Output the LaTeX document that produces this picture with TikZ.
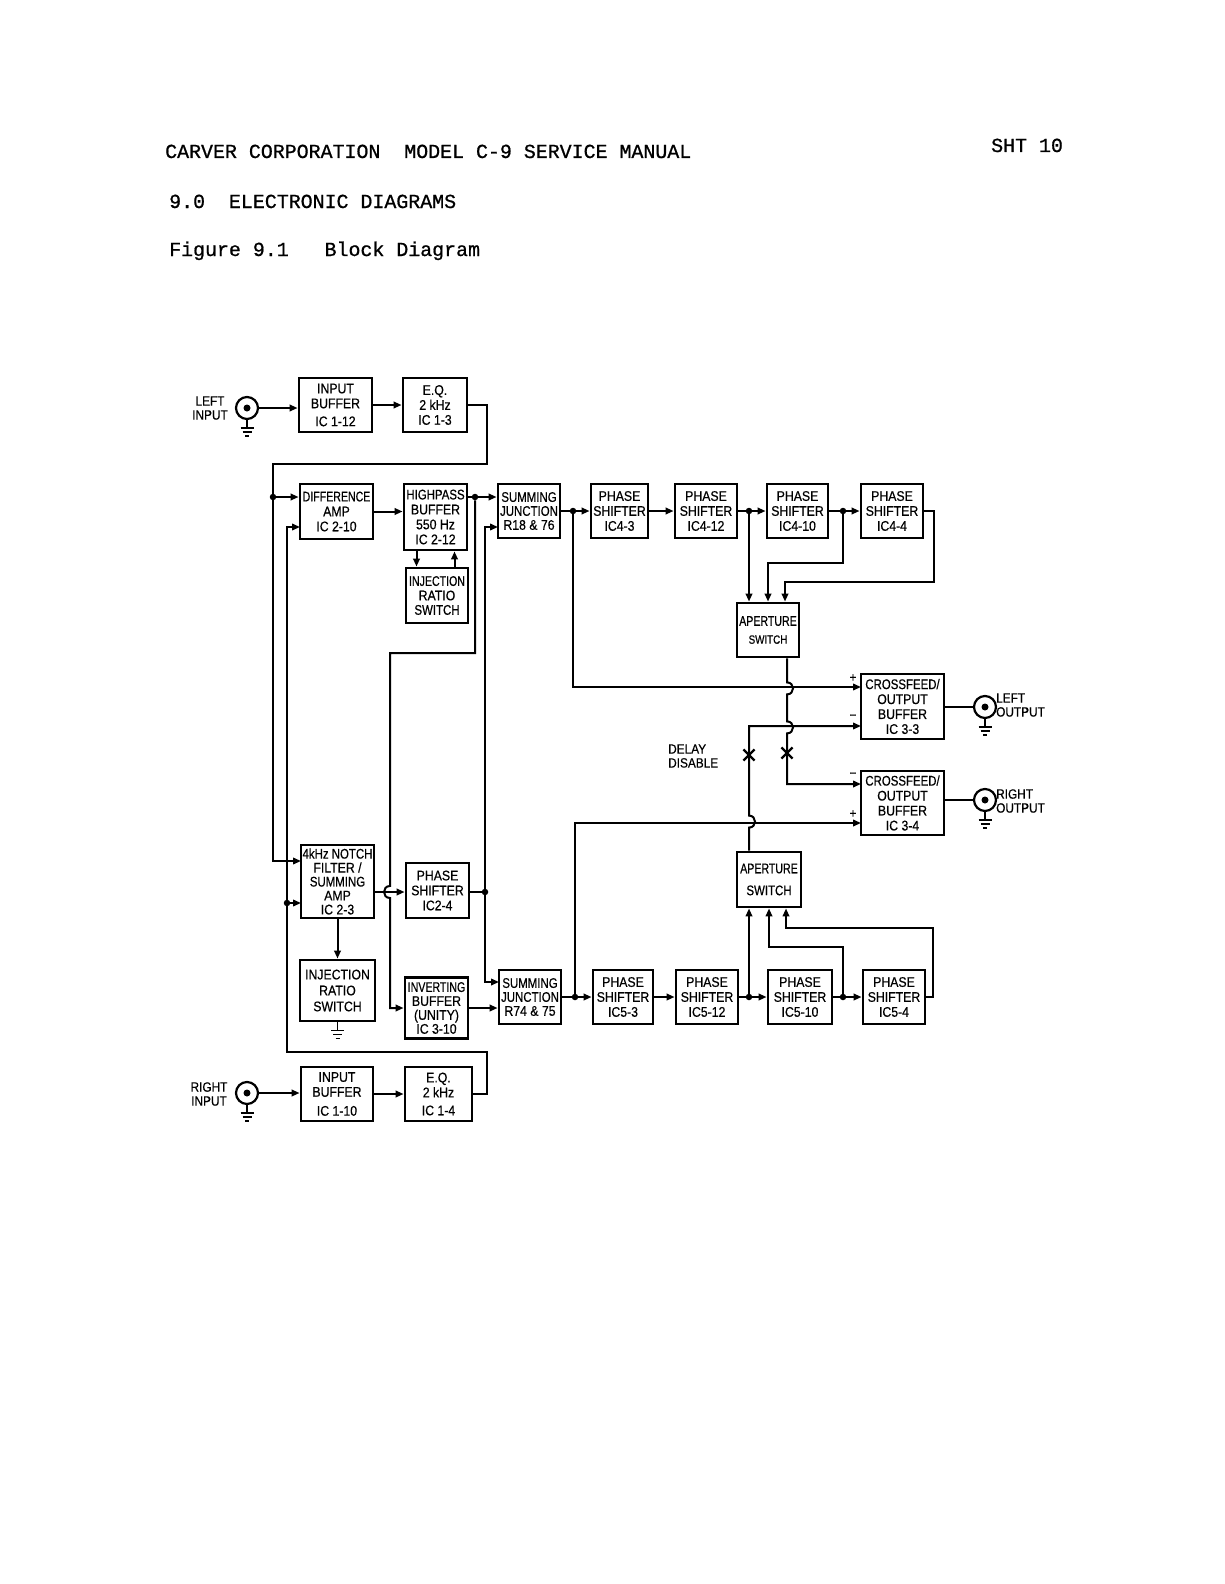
\documentclass[tikz,border=0pt]{standalone}
\usepackage{fontspec}
\setmainfont{Liberation Sans}
\newfontfamily\hdrfont[FakeBold=0.8]{Liberation Mono}
\newfontfamily\midf[FakeStretch=0.88,FakeBold=0.5]{Liberation Sans}
\newfontfamily\nar[FakeStretch=0.82,FakeBold=0.5]{Liberation Sans}
\newfontfamily\vnar[FakeStretch=0.76,FakeBold=0.5]{Liberation Sans}
\usetikzlibrary{arrows.meta,shapes.misc}
\tikzset{
 blk/.style={draw,line width=2.8bp,inner sep=0pt,align=center,font=\midf\fontsize{14}{15}\selectfont},
 wire/.style={line width=2bp},
 arr/.style={wire,-{Triangle[length=8bp,width=6.5bp]}},
 jdot/.style={circle,fill,inner sep=0pt,minimum size=6.5bp},
 jack/.style={circle,draw,line width=2.2bp,minimum size=22bp,inner sep=0pt},
 lbl/.style={font=\midf\fontsize{13.5}{14}\selectfont,align=center,inner sep=0pt},
 pm/.style={font=\midf\fontsize{13}{13}\selectfont,inner sep=0pt},
 hdr/.style={anchor=base west,inner sep=0pt,font=\hdrfont\fontsize{20}{20}\selectfont},
 xmark/.style={cross out,draw,line width=2.2bp,minimum size=9bp,inner sep=0pt},
 gnd/.pic={\draw[line width=1.8bp] (0,0)--(0,8) (-6.5,8)--(6.5,8) (-4.5,12)--(4.5,12) (-2,16)--(2,16);}
}
\begin{document}
\begin{tikzpicture}[x=1bp,y=-1bp]
\path[use as bounding box,fill=white] (0,0) rectangle (1224,1584);

% header
\node[hdr] (h1) at (165,158) {CARVER CORPORATION\ \ MODEL C-9 SERVICE MANUAL};
\node[hdr] (h2) at (991,152) {SHT 10};
\node[hdr] (h3) at (169,208) {9.0\ \ ELECTRONIC DIAGRAMS};
\node[hdr] (h4) at (169,256) {Figure 9.1\ \ \ Block Diagram};

% ---------- blocks ----------
\node[blk,minimum width=73bp,minimum height=54bp] (ib1) at (335.5,405) {INPUT\\BUFFER\\[3bp]IC 1-12};
\node[blk,minimum width=64bp,minimum height=54bp] (eq1) at (435,405) {E.Q.\\2 kHz\\IC 1-3};
\node[blk,minimum width=73bp,minimum height=55bp] (diff) at (336.5,511.5) {{\vnar DIFFERENCE}\\AMP\\IC 2-10};
\node[blk,minimum width=63bp,minimum height=66bp] (hp) at (435.5,517) {{\nar HIGHPASS}\\BUFFER\\550 Hz\\IC 2-12};
\node[blk,minimum width=62bp,minimum height=55bp,font=\midf\fontsize{14}{14.5}\selectfont] (inj1) at (437,595.5) {{\vnar INJECTION}\\RATIO\\{\nar SWITCH}};
\node[blk,minimum width=62bp,minimum height=54bp,font=\midf\fontsize{14}{14}\selectfont] (sj1) at (529,511) {{\nar SUMMING}\\{\nar JUNCTION}\\R18 \& 76};
\node[blk,minimum width=57bp,minimum height=54bp] (ps1) at (619.5,511) {PHASE\\SHIFTER\\IC4-3};
\node[blk,minimum width=62bp,minimum height=54bp] (ps2) at (706,511) {PHASE\\SHIFTER\\IC4-12};
\node[blk,minimum width=61bp,minimum height=54bp] (ps3) at (797.5,511) {PHASE\\SHIFTER\\IC4-10};
\node[blk,minimum width=62bp,minimum height=54bp] (ps4) at (892,511) {PHASE\\SHIFTER\\IC4-4};
\node[blk,minimum width=62bp,minimum height=54bp] (ap1) at (768,630) {{\vnar APERTURE}\\[3bp]{\fontsize{12}{12}\selectfont\nar SWITCH}};
\node[blk,minimum width=83bp,minimum height=65bp] (cf1) at (902.5,706.5) {{\nar CROSSFEED/}\\OUTPUT\\BUFFER\\IC 3-3};
\node[blk,minimum width=83bp,minimum height=64bp] (cf2) at (902.5,803) {{\nar CROSSFEED/}\\OUTPUT\\BUFFER\\IC 3-4};
\node[blk,minimum width=73bp,minimum height=73bp,font=\midf\fontsize{14}{14}\selectfont] (notch) at (337.5,881.5) {{\nar 4kHz NOTCH}\\FILTER /\\{\nar SUMMING}\\AMP\\IC 2-3};
\node[blk,minimum width=63bp,minimum height=55bp] (ps9) at (437.5,890.5) {PHASE\\SHIFTER\\IC2-4};
\node[blk,minimum width=75bp,minimum height=61bp,font=\midf\fontsize{14}{16}\selectfont] (inj2) at (337.5,990.5) {INJECTION\\RATIO\\SWITCH};
\node[blk,minimum width=63bp,minimum height=61bp,font=\midf\fontsize{14}{14}\selectfont] (inv) at (436.5,1008) {{\vnar INVERTING}\\BUFFER\\(UNITY)\\IC 3-10};
\node[blk,minimum width=62bp,minimum height=54bp,font=\midf\fontsize{14}{14}\selectfont] (sj2) at (530,997) {{\nar SUMMING}\\{\nar JUNCTION}\\R74 \& 75};
\node[blk,minimum width=60bp,minimum height=54bp] (ps5) at (623,997) {PHASE\\SHIFTER\\IC5-3};
\node[blk,minimum width=62bp,minimum height=54bp] (ps6) at (707,997) {PHASE\\SHIFTER\\IC5-12};
\node[blk,minimum width=64bp,minimum height=54bp] (ps7) at (800,997) {PHASE\\SHIFTER\\IC5-10};
\node[blk,minimum width=62bp,minimum height=54bp] (ps8) at (894,997) {PHASE\\SHIFTER\\IC5-4};
\node[blk,minimum width=64bp,minimum height=55bp] (ap2) at (769,879.5) {{\vnar APERTURE}\\[7bp]{\nar SWITCH}};
\node[blk,minimum width=72bp,minimum height=54bp] (ib2) at (337,1094) {INPUT\\BUFFER\\[4bp]IC 1-10};
\node[blk,minimum width=67bp,minimum height=54bp] (eq2) at (438.5,1094) {E.Q.\\2 kHz\\[3bp]IC 1-4};

% ---------- jacks and labels ----------
\node[jack] (li) at (247,408) {};
\node[jdot,minimum size=7bp] (lic) at (li) {};
\pic at (li.south) {gnd};
\node[lbl] (litxt) at (210,408) {LEFT\\INPUT};
\node[jack] (ri) at (247,1093) {};
\node[jdot,minimum size=7bp] (ric) at (ri) {};
\pic at (ri.south) {gnd};
\node[lbl] (ritxt) at (209,1094) {RIGHT\\INPUT};
\node[jack] (lo) at (985,707) {};
\node[jdot,minimum size=7bp] (loc) at (lo) {};
\pic at (lo.south) {gnd};
\node[lbl,anchor=west,align=left] (lotxt) at (996,705) {LEFT\\OUTPUT};
\node[jack] (ro) at (985,800) {};
\node[jdot,minimum size=7bp] (roc) at (ro) {};
\pic at (ro.south) {gnd};
\node[lbl,anchor=west,align=left] (rotxt) at (996,801) {RIGHT\\OUTPUT};
\pic at (inj2.south) {gnd};
\node[lbl,anchor=west,align=left] (dd) at (668,756) {DELAY\\DISABLE};
\node[pm] (pl1) at (853,678) {+};
\node[pm] (mi1) at (853,717) {\textminus};
\node[pm] (mi2) at (853,775) {\textminus};
\node[pm] (pl2) at (853,814) {+};

% ---------- junction dots and corner points ----------
\node[jdot] (d1) at (573,511) {};
\node[jdot] (d2) at (749,511) {};
\node[jdot] (d3) at (843,511) {};
\node[jdot] (d5) at (575,997) {};
\node[jdot] (d6) at (749,997) {};
\node[jdot] (d7) at (843,997) {};
\node[jdot] (d8) at (273,497) {};
\node[jdot] (d9) at (287,903) {};
\node[jdot] (d10) at (475,497) {};
\node[jdot] (d11) at (485,892) {};
\coordinate (c1) at (934,582);
\coordinate (c2) at (843,563);
\coordinate (c3) at (843,947);
\coordinate (c4) at (933,928);
\coordinate (c5) at (487,464);
\coordinate (c6) at (273,464);
\coordinate (c7) at (487,1052);
\coordinate (c8) at (287,1052);
\coordinate (c9) at (475,653);
\coordinate (c10) at (390,653);
\coordinate (n1) at (301,861);
\coordinate (n2) at (301,903);
\coordinate (di2) at (300,527);
\coordinate (s1b) at (498,527);
\coordinate (s2a) at (499,982);
\coordinate (cf1p) at (861,687);
\coordinate (cf1m) at (861,726);
\coordinate (cf2m) at (861,784);
\coordinate (cf2p) at (861,823);

% ---------- connectors: inputs ----------
\draw[arr] (li) -- (li -| ib1.west);
\draw[arr] (ib1) -- (eq1);
\draw[arr] (ri) -- (ri -| ib2.west);
\draw[arr] (ib2) -- (eq2);
\draw[arr] (eq1.east) -| (c5) -- (c6) |- (n1);
\draw[arr] (d8) -- (diff.west |- d8);
\draw[arr] (eq2.east) -| (c7) -- (c8) |- (di2);
\draw[arr] (d9) -- (n2);

% difference path
\draw[arr] (diff) -- (diff -| hp.west);
\draw[wire] (hp.east |- d10) -- (d10);
\draw[arr] (d10) -- (sj1.west |- d10);
\draw[arr] ([xshift=-19bp]hp.south) -- ([xshift=-19bp]hp.south |- inj1.north);
\draw[arr] ([xshift=19bp]hp.south |- inj1.north) -- ([xshift=19bp]hp.south);
\draw[arr] (d10) -- (c9) -- (c10) -- ++(0,233) .. controls +(-8,0) and +(-8,0) .. ++(0,12) |- (inv.west);

% notch path
\draw[arr] (notch.east |- d11) -- (ps9.west |- d11);
\draw[wire] (ps9.east |- d11) -- (d11);
\draw[arr] (d11) |- (s1b);
\draw[arr] (d11) |- (s2a);
\draw[arr] (notch.south) -- (inj2.north);
\draw[arr] (inv) -- (inv -| sj2.west);

% upper chain
\draw[wire] (sj1) -- (d1);
\draw[arr] (d1) -- (ps1);
\draw[arr] (ps1) -- (ps2);
\draw[wire] (ps2) -- (d2);
\draw[arr] (d2) -- (ps3);
\draw[wire] (ps3) -- (d3);
\draw[arr] (d3) -- (ps4);
\draw[arr] (d2) -- (d2 |- ap1.north);
\draw[arr] (d3) -- (c2) -| (ap1.north);
\draw[arr] (ps4.east) -| (c1) -| ([xshift=17bp]ap1.north);

% lower chain
\draw[wire] (sj2) -- (d5);
\draw[arr] (d5) -- (ps5);
\draw[arr] (ps5) -- (ps6);
\draw[wire] (ps6) -- (d6);
\draw[arr] (d6) -- (ps7);
\draw[wire] (ps7) -- (d7);
\draw[arr] (d7) -- (ps8);
\draw[arr] (d6) -- (d6 |- ap2.south);
\draw[arr] (d7) -- (c3) -| (ap2.south);
\draw[arr] (ps8.east) -| (c4) -| ([xshift=17bp]ap2.south);

% crossfeed
\draw[arr] (d1) |- (cf1p);
\draw[arr] (d5) |- (cf2p);
\draw[arr] ([xshift=19bp]ap1.south) -- ++(0,24) .. controls +(8,0) and +(8,0) .. ++(0,12) -- ++(0,27) .. controls +(8,0) and +(8,0) .. ++(0,12) |- (cf2m);
\draw[arr] ([xshift=-20bp]ap2.north) -- ++(0,-23) .. controls +(8,0) and +(8,0) .. ++(0,-12) |- (cf1m);
\node[xmark] (x1) at (749,755) {};
\node[xmark] (x2) at (787,753) {};

% outputs
\draw[wire] (cf1.east |- lo) -- (lo);
\draw[wire] (cf2.east |- ro) -- (ro);
\end{tikzpicture}
\end{document}
